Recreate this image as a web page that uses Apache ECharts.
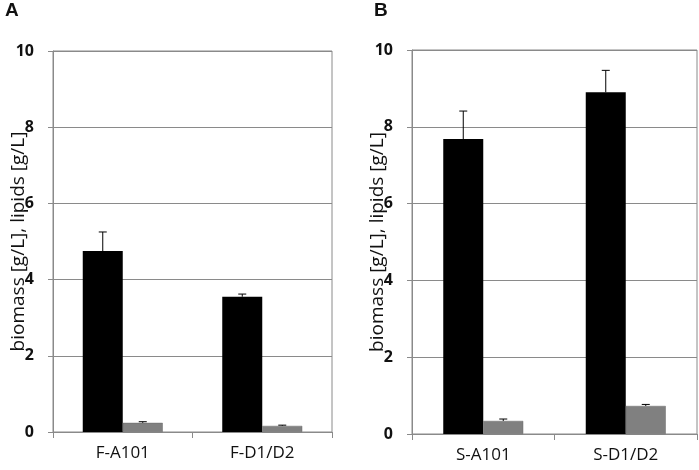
<!DOCTYPE html>
<html lang="en">
<head>
    <meta charset="UTF-8">
    <title>biomass / lipids</title>
    <style>
        html, body { margin: 0; padding: 0; background: #fff; }
        #main { width: 699px; height: 470px; }
    </style>
    <script src="https://cdn.jsdelivr.net/npm/echarts@6/dist/echarts.min.js"></script>
</head>
<body>
    <div id="main"></div>
    <script type="text/javascript">
        // data
        var catsA = ['F-A101', 'F-D1/D2'];
        var biomassA = [4.75, 3.55];
        var biomassErrA = [0.5, 0.07];
        var lipidsA = [0.24, 0.16];
        var lipidsErrA = [0.03, 0.02];

        var catsB = ['S-A101', 'S-D1/D2'];
        var biomassB = [7.68, 8.9];
        var biomassErrB = [0.73, 0.57];
        var lipidsB = [0.34, 0.73];
        var lipidsErrB = [0.05, 0.04];

        var yTicks = [0, 2, 4, 6, 8, 10];

        var BAR_W = 40;
        var FONT = '"Open Sans", "Noto Sans", sans-serif';
        var GRID_COLOR = '#8a8a8a';

        var myChart = echarts.init(document.getElementById('main'));

        // error bar points: [category index, bar value, error, side]
        function errData(vals, errs, side) {
            return vals.map(function (v, i) { return [i, v, errs[i], side]; });
        }

        function renderErr(params, api) {
            var base = api.coord([api.value(0), api.value(1)]);
            var top = api.coord([api.value(0), api.value(1) + api.value(2)]);
            var x = base[0] + api.value(3) * BAR_W / 2;
            var style = { stroke: '#000', lineWidth: 1 };
            return {
                type: 'group',
                children: [
                    { type: 'line', shape: { x1: x, y1: base[1], x2: x, y2: top[1] }, style: style },
                    { type: 'line', shape: { x1: x - 4, y1: top[1], x2: x + 4, y2: top[1] }, style: style }
                ]
            };
        }

        function xAxisOf(cats, idx) {
            return {
                type: 'category',
                gridIndex: idx,
                data: cats,
                axisLine: { lineStyle: { color: GRID_COLOR } },
                axisTick: { show: true, length: 6, lineStyle: { color: GRID_COLOR } },
                axisLabel: { color: '#111', fontFamily: FONT, fontSize: 17, margin: 13 }
            };
        }

        function yAxisOf(idx) {
            return {
                type: 'value',
                gridIndex: idx,
                min: yTicks[0],
                max: yTicks[yTicks.length - 1],
                interval: 2,
                name: 'biomass [g/L], lipids [g/L]',
                nameLocation: 'middle',
                nameGap: 25,
                nameMoveOverlap: false,
                nameTextStyle: { color: '#111', fontFamily: FONT, fontSize: 19 },
                axisLine: { show: true, lineStyle: { color: GRID_COLOR } },
                axisTick: { show: true, length: 5, lineStyle: { color: GRID_COLOR } },
                axisLabel: { color: '#111', fontFamily: FONT, fontSize: 16, fontWeight: 'bold', margin: 19 },
                splitLine: { lineStyle: { color: GRID_COLOR, width: 1 } }
            };
        }

        function barsOf(biomass, lipids, idx) {
            return [{
                type: 'bar', xAxisIndex: idx, yAxisIndex: idx,
                data: biomass, barWidth: BAR_W, barGap: '0%',
                itemStyle: { color: '#000' }
            }, {
                type: 'bar', xAxisIndex: idx, yAxisIndex: idx,
                data: lipids, barWidth: BAR_W, barGap: '0%',
                itemStyle: { color: '#808080', borderColor: '#6a6a6a', borderWidth: 0.5 }
            }];
        }

        function errsOf(data, idx) {
            return {
                type: 'custom', xAxisIndex: idx, yAxisIndex: idx,
                renderItem: renderErr, data: data, z: 5
            };
        }

        var titleStyle = { fontFamily: 'Liberation Sans', fontWeight: 'bold', fontSize: 19, color: '#111' };

        var option = {
            animation: false,
            title: [
                { text: 'A', left: 0, top: -4, textStyle: titleStyle },
                { text: 'B', left: 369, top: -4, textStyle: titleStyle }
            ],
            grid: [
                { left: 53, top: 51, width: 279, height: 381, show: true, borderColor: GRID_COLOR, borderWidth: 1, outerBoundsMode: 'none' },
                { left: 412, top: 50, width: 285, height: 384, show: true, borderColor: GRID_COLOR, borderWidth: 1, outerBoundsMode: 'none' }
            ],
            xAxis: [xAxisOf(catsA, 0), xAxisOf(catsB, 1)],
            yAxis: [yAxisOf(0), yAxisOf(1)],
            series: [].concat(
                barsOf(biomassA, lipidsA, 0),
                barsOf(biomassB, lipidsB, 1),
                [
                    errsOf(errData(biomassA, biomassErrA, -1), 0),
                    errsOf(errData(lipidsA, lipidsErrA, 1), 0),
                    errsOf(errData(biomassB, biomassErrB, -1), 1),
                    errsOf(errData(lipidsB, lipidsErrB, 1), 1)
                ]
            )
        };

        myChart.setOption(option);
    </script>
</body>
</html>
